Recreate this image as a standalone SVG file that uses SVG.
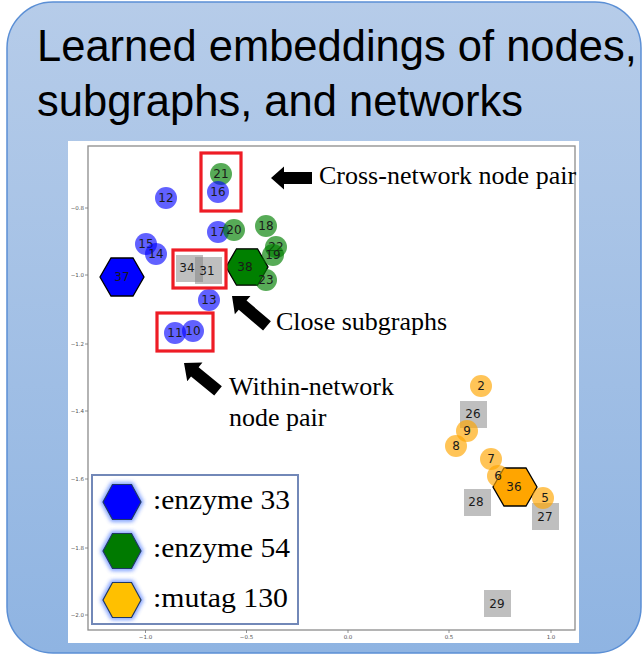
<svg xmlns="http://www.w3.org/2000/svg" width="644" height="656" viewBox="0 0 644 656">
<defs>
<linearGradient id="bg" x1="0" y1="0" x2="0" y2="1">
<stop offset="0" stop-color="#b6cce9"/>
<stop offset="1" stop-color="#8fb4e2"/>
</linearGradient>
<filter id="glow" x="-30%" y="-30%" width="160%" height="160%">
<feGaussianBlur stdDeviation="2"/>
</filter>
<style>
.title{font-family:"Liberation Sans",Arial,sans-serif;font-size:43.5px;fill:#000}
.ann{font-family:"Liberation Serif","Times New Roman",serif;font-size:26px;fill:#000}
.leg{font-family:"Liberation Serif","Times New Roman",serif;font-size:28px;fill:#000}
.lbl{font-family:"DejaVu Sans",sans-serif;font-size:12px;fill:#1a1a1a;text-anchor:middle;dominant-baseline:central}
.tick{font-family:"DejaVu Sans",sans-serif;font-size:5.5px;fill:#555}
.cb{fill:#0000ff;fill-opacity:0.62}
.cg{fill:#008000;fill-opacity:0.66}
.co{fill:#ffa500;fill-opacity:0.66}
.sq{fill:#808080;fill-opacity:0.5}
.hex{stroke:#000;stroke-width:1.3}
.red{fill:none;stroke:#ee1c25;stroke-width:3.2}
.arr{fill:#000}
.lhex{stroke:#1f3864;stroke-width:1.2}
.lglow{fill:none;stroke:#3a6cff;stroke-width:4;opacity:0.8}
</style>
</defs>

<rect x="7" y="2" width="634" height="651" rx="46" ry="46" fill="url(#bg)" stroke="#5b8fd5" stroke-width="1.5"/>
<text class="title" x="37" y="61">Learned embeddings of nodes,</text>
<text class="title" x="37" y="116">subgraphs, and networks</text>

<rect x="68" y="141" width="511" height="502" fill="#fff"/>
<rect x="88" y="146" width="487" height="484" fill="none" stroke="#8c8c8c" stroke-width="1.3"/>

<g id="ticks" stroke="#777" stroke-width="0.8">
<line x1="145.5" y1="630" x2="145.5" y2="633"/>
<line x1="246.5" y1="630" x2="246.5" y2="633"/>
<line x1="348" y1="630" x2="348" y2="633"/>
<line x1="449" y1="630" x2="449" y2="633"/>
<line x1="551" y1="630" x2="551" y2="633"/>
<line x1="85" y1="208" x2="88" y2="208"/>
<line x1="85" y1="275" x2="88" y2="275"/>
<line x1="85" y1="344" x2="88" y2="344"/>
<line x1="85" y1="411" x2="88" y2="411"/>
<line x1="85" y1="479" x2="88" y2="479"/>
<line x1="85" y1="548" x2="88" y2="548"/>
<line x1="85" y1="615" x2="88" y2="615"/>
</g>
<g id="ticklabels" class="tick">
<text x="145.5" y="639" text-anchor="middle">−1.0</text>
<text x="246.5" y="639" text-anchor="middle">−0.5</text>
<text x="348" y="639" text-anchor="middle">0.0</text>
<text x="449" y="639" text-anchor="middle">0.5</text>
<text x="551" y="639" text-anchor="middle">1.0</text>
<text x="84" y="210" text-anchor="end">−0.8</text>
<text x="84" y="277" text-anchor="end">−1.0</text>
<text x="84" y="346" text-anchor="end">−1.2</text>
<text x="84" y="413" text-anchor="end">−1.4</text>
<text x="84" y="481" text-anchor="end">−1.6</text>
<text x="84" y="550" text-anchor="end">−1.8</text>
<text x="84" y="617" text-anchor="end">−2.0</text>
</g>

<g id="node37"><polygon class="hex" fill="#0000ff" points="100,277 111,258 133,258 144,277 133,296 111,296"/><text class="lbl" x="122" y="277">37</text></g>
<g id="node38"><polygon class="hex" fill="#008000" points="226,267 236.5,248.8 257.5,248.8 268,267 257.5,285.2 236.5,285.2"/><text class="lbl" x="245" y="267">38</text></g>
<g id="node36"><polygon class="hex" fill="#ffa500" points="493,487 504,468 526,468 537,487 526,506 504,506"/><text class="lbl" x="514" y="487">36</text></g>

<g id="node34"><rect class="sq" x="176" y="255" width="27" height="27"/><text class="lbl" x="187" y="268">34</text></g>
<g id="node31"><rect class="sq" x="195" y="257" width="27" height="27"/><text class="lbl" x="207" y="271">31</text></g>
<g id="node26"><rect class="sq" x="460" y="401" width="27" height="27"/><text class="lbl" x="473" y="414">26</text></g>
<g id="node28"><rect class="sq" x="464" y="489" width="27" height="27"/><text class="lbl" x="476" y="502">28</text></g>
<g id="node27"><rect class="sq" x="532" y="503" width="27" height="27"/><text class="lbl" x="545" y="517">27</text></g>
<g id="node29"><rect class="sq" x="484" y="590" width="27" height="27"/><text class="lbl" x="497" y="604">29</text></g>

<g id="node21"><circle class="cg" cx="221" cy="174" r="11"/><text class="lbl" x="221" y="174">21</text></g>
<g id="node16"><circle class="cb" cx="218" cy="192" r="11"/><text class="lbl" x="218" y="192">16</text></g>
<g id="node12"><circle class="cb" cx="166" cy="198" r="11"/><text class="lbl" x="166" y="198">12</text></g>
<g id="node17"><circle class="cb" cx="218" cy="232" r="11"/><text class="lbl" x="218" y="232">17</text></g>
<g id="node20"><circle class="cg" cx="234" cy="230" r="11"/><text class="lbl" x="234" y="230">20</text></g>
<g id="node18"><circle class="cg" cx="266" cy="226" r="11"/><text class="lbl" x="266" y="226">18</text></g>
<g id="node22"><circle class="cg" cx="276" cy="247" r="11"/><text class="lbl" x="276" y="247">22</text></g>
<g id="node19"><circle class="cg" cx="273" cy="255" r="11"/><text class="lbl" x="273" y="255">19</text></g>
<g id="node23"><circle class="cg" cx="266" cy="280" r="11"/><text class="lbl" x="266" y="280">23</text></g>
<g id="node15"><circle class="cb" cx="146" cy="244" r="11"/><text class="lbl" x="146" y="244">15</text></g>
<g id="node14"><circle class="cb" cx="156" cy="254" r="11"/><text class="lbl" x="156" y="254">14</text></g>
<g id="node13"><circle class="cb" cx="209" cy="300" r="11"/><text class="lbl" x="209" y="300">13</text></g>
<g id="node11"><circle class="cb" cx="175" cy="333" r="11"/><text class="lbl" x="175" y="333">11</text></g>
<g id="node10"><circle class="cb" cx="193" cy="331" r="11"/><text class="lbl" x="193" y="331">10</text></g>
<g id="node2"><circle class="co" cx="481" cy="386" r="11"/><text class="lbl" x="481" y="386">2</text></g>
<g id="node9"><circle class="co" cx="467" cy="431" r="11"/><text class="lbl" x="467" y="431">9</text></g>
<g id="node8"><circle class="co" cx="456" cy="446" r="11"/><text class="lbl" x="456" y="446">8</text></g>
<g id="node7"><circle class="co" cx="491" cy="459" r="11"/><text class="lbl" x="491" y="459">7</text></g>
<g id="node6"><circle class="co" cx="498" cy="476" r="11"/><text class="lbl" x="498" y="476">6</text></g>
<g id="node5"><circle class="co" cx="543" cy="498" r="11"/><text class="lbl" x="545" y="498">5</text></g>

<g id="highlights">
<rect class="red" x="201" y="153" width="40" height="58"/>
<rect class="red" x="173" y="250" width="53" height="38"/>
<rect class="red" x="157" y="313" width="56" height="38"/>
</g>

<g id="connectors">
<polygon class="arr" transform="translate(271,178)" points="0,0 13,-11.5 13,-6 41,-6 41,6 13,6 13,11.5"/>
<polygon class="arr" transform="translate(232,296) rotate(40.5)" points="0,0 14,-12 14,-6 46,-6 46,6 14,6 14,12"/>
<polygon class="arr" transform="translate(184,363) rotate(39.3)" points="0,0 14,-12 14,-6 44,-6 44,6 14,6 14,12"/>
</g>

<g id="annotations">
<text class="ann" x="319" y="184">Cross-network node pair</text>
<text class="ann" x="276" y="330">Close subgraphs</text>
<text class="ann" x="229" y="395">Within-network</text>
<text class="ann" x="229" y="426">node pair</text>
</g>

<g id="legend">
<rect x="92" y="475" width="206" height="149" fill="#fff" stroke="#7288b8" stroke-width="2"/>
<polygon class="lglow" filter="url(#glow)" points="103,502 112.5,484.5 131.5,484.5 141,502 131.5,519.5 112.5,519.5"/>
<polygon class="lhex" fill="#0000ff" points="103,502 112.5,484.5 131.5,484.5 141,502 131.5,519.5 112.5,519.5"/>
<polygon class="lglow" filter="url(#glow)" points="103,551 112.5,533.5 131.5,533.5 141,551 131.5,568.5 112.5,568.5"/>
<polygon class="lhex" fill="#007a00" points="103,551 112.5,533.5 131.5,533.5 141,551 131.5,568.5 112.5,568.5"/>
<polygon class="lglow" filter="url(#glow)" points="103,600 112.5,582.5 131.5,582.5 141,600 131.5,617.5 112.5,617.5"/>
<polygon class="lhex" fill="#ffc000" points="103,600 112.5,582.5 131.5,582.5 141,600 131.5,617.5 112.5,617.5"/>
<text class="leg" x="153" y="509" textLength="137" lengthAdjust="spacingAndGlyphs">:enzyme 33</text>
<text class="leg" x="153" y="557" textLength="137" lengthAdjust="spacingAndGlyphs">:enzyme 54</text>
<text class="leg" x="153" y="607" textLength="135" lengthAdjust="spacingAndGlyphs">:mutag 130</text>
</g>
</svg>
